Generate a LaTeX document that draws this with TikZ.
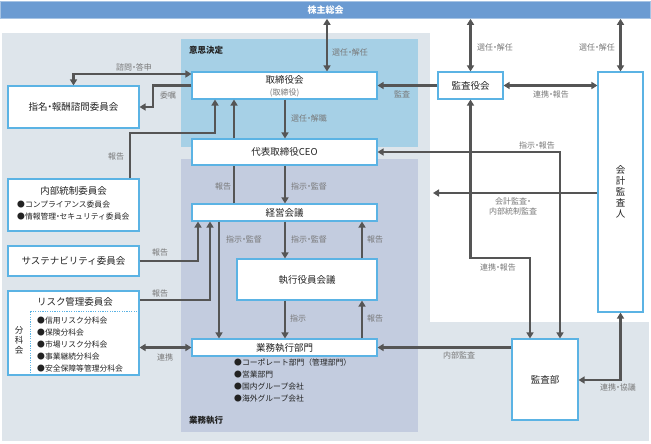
\documentclass[tikz,border=0pt]{standalone}
\usepackage{fontspec}
\setmainfont{Noto Sans CJK JP}
\usetikzlibrary{arrows.meta,calc}
\definecolor{barblue}{HTML}{6B9BD2}
\definecolor{bgray}{HTML}{DEE5EB}
\definecolor{declblue}{HTML}{A6D0E6}
\definecolor{execblue}{HTML}{C3CCDF}
\definecolor{boxline}{HTML}{5BB3E4}
\definecolor{conn}{HTML}{555555}
\definecolor{labg}{HTML}{787878}
\definecolor{txt}{HTML}{222222}
\newcommand{\jdot}{\kern-0.28em・\kern-0.28em}
\begin{document}
\begin{tikzpicture}[x=1pt,y=-1pt,
  box/.style={draw=boxline, line width=1.1pt, fill=white, inner sep=0pt, text=txt, font=\fontsize{9.5}{10}\selectfont},
  cline/.style={draw=conn, line width=2.4pt},
  lnk/.style={cline, -{Triangle[length=6pt,width=7pt]}},
  dlnk/.style={cline, {Triangle[length=6pt,width=7pt]}-{Triangle[length=6pt,width=7pt]}},
  lab/.style={text=labg, font=\fontsize{8}{10}\selectfont, inner sep=0pt},
  bul/.style={font=\fontsize{7.8}{9}\selectfont, inner sep=0pt, anchor=west, text=txt},
  region/.style={font=\bfseries\fontsize{8.5}{10}\selectfont, inner sep=0pt, anchor=west, text=txt}]
\useasboundingbox (0,0) rectangle (651,444);
% backgrounds
\fill[bgray] (2,33) rectangle (430,441);
\fill[bgray] (430,322) rectangle (649,441);
\fill[declblue] (181,39) rectangle (418,147);
\fill[execblue] (181,159) rectangle (418,432);
\node[region] (lblDecide) at (189,50) {意思決定};
\node[region] (lblExec) at (189,420) {業務執行};
% helper coordinates
\coordinate (v327) at (327,0);
\coordinate (v153) at (153,0);
\coordinate (v130) at (130,0);
\coordinate (v215) at (215,0);
\coordinate (v234) at (234,0);
\coordinate (v285) at (285,0);
\coordinate (v362) at (362,0);
\coordinate (v219) at (219,0);
\coordinate (v198) at (198,0);
\coordinate (v210) at (210,0);
\coordinate (v560) at (560,0);
\coordinate (v530) at (530,0);
\coordinate (v30) at (30,0);
\coordinate (h74) at (0,74);
\coordinate (h133) at (0,133);
\coordinate (h258) at (0,258);
\coordinate (h380) at (0,380);
\coordinate (h300) at (0,300);
\coordinate (h311) at (0,311);
\coordinate (e433) at (433,193);
% top bar
\node[fill=barblue, draw=barblue!60!white, line width=0.6pt, minimum width=650pt, minimum height=17pt, inner sep=0pt, text=white, font=\bfseries\fontsize{9}{10}\selectfont] (bar) at (325.5,10) {株主総会};
% boxes
\node[box, minimum width=185pt, minimum height=27pt] (tori) at (284.5,85.5) {};
\node[inner sep=0pt, text=txt, font=\fontsize{9.5}{10}\selectfont] (toriT) at (284.5,80) {取締役会};
\node[inner sep=0pt, text=labg, font=\fontsize{8}{9}\selectfont] (toriS) at (284.5,92.5) {(取締役)};
\node[box, minimum width=185pt, minimum height=26pt] (ceo) at (284.5,152) {代表取締役CEO};
\node[box, minimum width=185pt, minimum height=17pt] (keiei) at (284.5,212.5) {経営会議};
\node[box, minimum width=140pt, minimum height=41pt] (shikko) at (307,279.5) {執行役員会議};
\node[box, minimum width=185pt, minimum height=17pt] (gyomu) at (284.5,347.5) {業務執行部門};
\node[box, minimum width=131pt, minimum height=42pt] (shimei) at (73.5,107) {指名\jdot 報酬諮問委員会};
\node[box, minimum width=131pt, minimum height=52pt] (naibu) at (73.5,205) {};
\node[inner sep=0pt, text=txt, font=\fontsize{9.5}{10}\selectfont] (naibuT) at (73.5,191) {内部統制委員会};
\node[bul] (naibuB1) at (17,205) {●コンプライアンス委員会};
\node[bul] (naibuB2) at (17,217) {●情報管理\jdot セキュリティ委員会};
\node[box, minimum width=131pt, minimum height=30pt] (sus) at (73.5,261) {サステナビリティ委員会};
\node[box, minimum width=131pt, minimum height=84pt] (risk) at (73.5,333) {};
\node[inner sep=0pt, text=txt, font=\fontsize{9.5}{10}\selectfont] (riskT) at (75,302) {リスク管理委員会};
\draw[boxline, line width=0.7pt, dash pattern=on 1.2pt off 1.2pt] (risk.east |- h311) -- (v30 |- h311) -- (risk.south -| v30);
\node[inner sep=0pt, text=txt, align=center, font=\fontsize{8.5}{10}\selectfont] (bunka) at (19,340) {分\\科\\会};
\node[bul] (riskB1) at (37,321) {●信用リスク分科会};
\node[bul] (riskB2) at (37,333) {●保険分科会};
\node[bul] (riskB3) at (37,345) {●市場リスク分科会};
\node[bul] (riskB4) at (37,357) {●事業継続分科会};
\node[bul] (riskB5) at (37,369) {●安全保障等管理分科会};
\node[box, minimum width=65pt, minimum height=27pt] (kansayaku) at (470.5,85.5) {監査役会};
\node[box, minimum width=45pt, minimum height=240pt] (kaikei) at (620.5,192) {};
\node[inner sep=0pt, text=txt, align=center, font=\fontsize{9.5}{11}\selectfont] (kaikeiT) at (620.5,192) {会\\計\\監\\査\\人};
\node[box, minimum width=66pt, minimum height=81pt] (kansabu) at (545,379.5) {監査部};
\node[bul] (gyB1) at (234,363) {●コーポレート部門（管理部門）};
\node[bul] (gyB2) at (234,375) {●営業部門};
\node[bul] (gyB3) at (234,387) {●国内グループ会社};
\node[bul] (gyB4) at (234,399) {●海外グループ会社};
% connectors
\draw[dlnk] (bar.south -| v327) -- (tori.north -| v327);
\draw[dlnk] (bar.south -| kansayaku.north) -- (kansayaku.north);
\draw[dlnk] (bar.south -| kaikei.north) -- (kaikei.north);
\draw[dlnk] (kansayaku.east) -- (kaikei.west |- kansayaku.east);
\draw[lnk] (kansayaku.west) -- (tori.east);
\draw[dlnk] (ceo.east) -- (ceo.east -| v560) -- (kansabu.north -| v560);
\draw[dlnk] (kansayaku.south) -- (kansayaku.south |- h258) -- (v530 |- h258) -- (kansabu.north -| v530);
\draw[lnk] (kaikei.west |- e433) -- (e433);
\draw[dlnk] (kaikei.south) -- (kaikei.south |- h380) -- (kansabu.east |- h380);
\draw[lnk] (kansabu.west |- gyomu.east) -- (gyomu.east);
\draw[dlnk] (shimei.north) -- (shimei.north |- h74) -- (tori.west |- h74);
\draw[lnk] (tori.west) -- (tori.west -| v153) -- (v153 |- shimei.east) -- (shimei.east);
\draw[lnk] (naibu.north -| v130) -- (v130 |- h133) -- (v215 |- h133) -- (tori.south -| v215);
\draw[cline] (keiei.north -| v234) -- (ceo.south -| v234);
\draw[lnk] (ceo.north -| v234) -- (tori.south -| v234);
\draw[lnk] (tori.south -| v285) -- (ceo.north -| v285);
\draw[lnk] (ceo.south -| v285) -- (keiei.north -| v285);
\draw[lnk] (keiei.south -| v285) -- (shikko.north -| v285);
\draw[lnk] (shikko.north -| v362) -- (keiei.south -| v362);
\draw[lnk] (keiei.south -| v219) -- (gyomu.north -| v219);
\draw[lnk] (shikko.south -| v285) -- (gyomu.north -| v285);
\draw[lnk] (gyomu.north -| v362) -- (shikko.south -| v362);
\draw[lnk] (sus.east) -- (sus.east -| v198) -- (keiei.south -| v198);
\draw[lnk] (risk.east |- h300) -- (v210 |- h300) -- (keiei.south -| v210);
\draw[dlnk] (risk.east |- gyomu.west) -- (gyomu.west);
% labels
\node[lab] (l1) at (350,52) {選任\jdot 解任};
\node[lab] (l2) at (495,47) {選任\jdot 解任};
\node[lab] (l3) at (597,47) {選任\jdot 解任};
\node[lab] (l4) at (551,94) {連携\jdot 報告};
\node[lab] (l5) at (402,94) {監査};
\node[lab] (l6) at (537,145) {指示\jdot 報告};
\node[lab] (l7) at (498,267) {連携\jdot 報告};
\node[lab, align=center] (l8) at (513,206) {会計監査\jdot\\内部統制監査};
\node[lab] (l9) at (618,387) {連携\jdot 協議};
\node[lab] (l10) at (459,355) {内部監査};
\node[lab] (l11) at (134,67) {諮問\jdot 答申};
\node[lab] (l12) at (168,95) {委嘱};
\node[lab] (l13) at (116,156) {報告};
\node[lab] (l14) at (223,186) {報告};
\node[lab] (l15) at (309,186) {指示\jdot 監督};
\node[lab] (l16) at (309,118) {選任\jdot 解職};
\node[lab] (l17) at (244,239) {指示\jdot 監督};
\node[lab] (l18) at (309,239) {指示\jdot 監督};
\node[lab] (l19) at (375,239) {報告};
\node[lab] (l20) at (298,318) {指示};
\node[lab] (l21) at (375,318) {報告};
\node[lab] (l22) at (160,252) {報告};
\node[lab] (l23) at (160,293) {報告};
\node[lab] (l24) at (165,357) {連携};
\end{tikzpicture}
\end{document}
